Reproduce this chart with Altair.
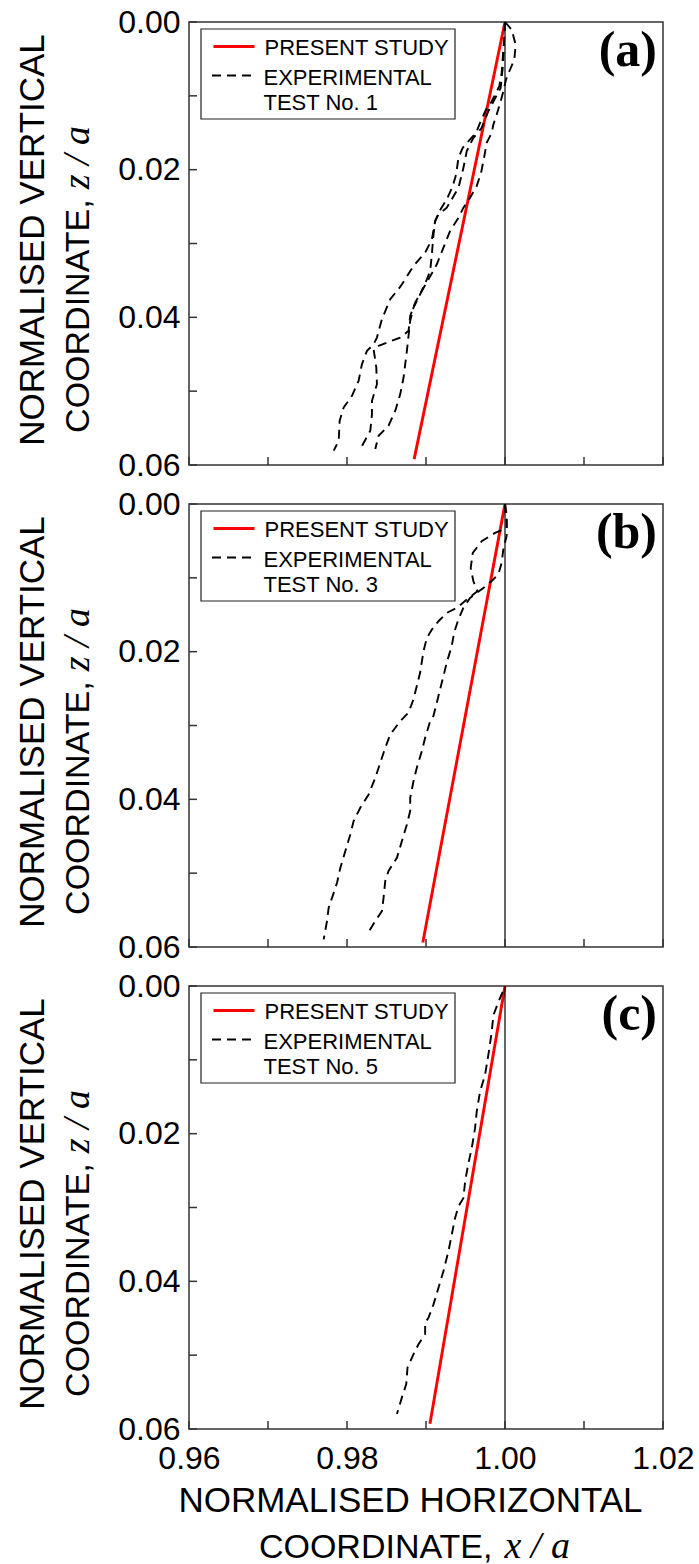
import altair as alt
import pandas as pd

FONT = "Liberation Sans"
SERIF = "Liberation Serif"

# ---------------- axis values ----------------
X_TICKS = [0.96, 0.97, 0.98, 0.99, 1.00, 1.01, 1.02]
X_LABELS = [0.96, 0.98, 1.00, 1.02]
Z_TICKS = [0.00, 0.01, 0.02, 0.03, 0.04, 0.05, 0.06]
Z_LABELS = [0.00, 0.02, 0.04, 0.06]
VERTICAL_REF = [1.00]

PANEL_LETTERS = ["(a)", "(b)", "(c)"]
TEST_NAMES = ["TEST No. 1", "TEST No. 3", "TEST No. 5"]

# ---------------- panel (a) ----------------
present_a_x = [1.0000, 0.9885]
present_a_z = [0.0000, 0.0592]

exp_a1_x = [1.00000, 0.99987, 0.99971, 0.99958, 0.99928, 0.99832, 0.99760, 0.99684, 0.99634,
            0.99558, 0.99465, 0.99411, 0.99381, 0.99339, 0.99263, 0.99171, 0.99116, 0.99074,
            0.98989, 0.98842, 0.98682, 0.98547, 0.98442, 0.98379, 0.98337, 0.98253, 0.98189,
            0.98147, 0.98063, 0.97958, 0.97907, 0.97895, 0.97832]
exp_a1_z = [0.00000, 0.00261, 0.00487, 0.00690, 0.00870, 0.01073, 0.01186, 0.01366, 0.01501,
            0.01591, 0.01704, 0.01839, 0.02065, 0.02222, 0.02403, 0.02561, 0.02696, 0.02944,
            0.03124, 0.03304, 0.03575, 0.03755, 0.04026, 0.04274, 0.04364, 0.04454, 0.04634,
            0.04860, 0.05063, 0.05220, 0.05401, 0.05671, 0.05806]

exp_a2_x = [1.00000, 1.00084, 1.00135, 1.00118, 1.00055, 1.00013, 0.99979, 0.99945, 0.99895,
            0.99853, 0.99832, 0.99768, 0.99735, 0.99697, 0.99642, 0.99558, 0.99474, 0.99411,
            0.99305, 0.99221, 0.99137, 0.99044, 0.98947, 0.98863, 0.98800, 0.98779, 0.98674,
            0.98400, 0.98337, 0.98371, 0.98379, 0.98316, 0.98316, 0.98295, 0.98168]
exp_a2_z = [0.00000, 0.00104, 0.00307, 0.00509, 0.00667, 0.00780, 0.00938, 0.01073, 0.01253,
            0.01388, 0.01501, 0.01636, 0.01839, 0.02042, 0.02222, 0.02380, 0.02515, 0.02651,
            0.02831, 0.03056, 0.03282, 0.03462, 0.03643, 0.03800, 0.03981, 0.04183, 0.04274,
            0.04386, 0.04431, 0.04679, 0.04905, 0.05130, 0.05311, 0.05536, 0.05784]

exp_a3_x = [1.00000, 0.99987, 0.99971, 0.99945, 0.99789, 0.99705, 0.99600, 0.99516, 0.99474,
            0.99411, 0.99263, 0.99158, 0.99116, 0.99095, 0.99074, 0.99053, 0.99011, 0.98926,
            0.98842, 0.98800, 0.98758, 0.98716, 0.98674, 0.98611, 0.98526, 0.98400, 0.98358]
exp_a3_z = [0.00000, 0.00307, 0.00622, 0.00893, 0.01208, 0.01434, 0.01569, 0.01749, 0.01975,
            0.02245, 0.02515, 0.02606, 0.02696, 0.02876, 0.03147, 0.03372, 0.03485, 0.03688,
            0.03868, 0.04048, 0.04454, 0.04815, 0.05040, 0.05265, 0.05468, 0.05604, 0.05784]

# ---------------- panel (b) ----------------
present_b_x = [1.0000, 0.9896]
present_b_z = [0.0000, 0.0594]

exp_b1_x = [1.00000, 1.00021, 1.00021, 0.99874, 0.99705, 0.99592, 0.99566, 0.99600, 0.99651,
            0.99516, 0.99389, 0.99263, 0.99158, 0.99074, 0.99011, 0.98968, 0.98926, 0.98884,
            0.98842, 0.98779, 0.98674, 0.98547, 0.98484, 0.98421, 0.98358, 0.98274, 0.98168,
            0.98084, 0.98042, 0.97979, 0.97916, 0.97874, 0.97811, 0.97768, 0.97747, 0.97705]
exp_b1_z = [0.00000, 0.00144, 0.00325, 0.00392, 0.00505, 0.00663, 0.00866, 0.01047, 0.01182,
            0.01295, 0.01408, 0.01475, 0.01588, 0.01701, 0.01814, 0.01994, 0.02283, 0.02463,
            0.02644, 0.02824, 0.02941, 0.03122, 0.03302, 0.03505, 0.03708, 0.03934, 0.04114,
            0.04295, 0.04475, 0.04701, 0.04926, 0.05129, 0.05332, 0.05468, 0.05648, 0.05896]

exp_b2_x = [1.00000, 1.00021, 1.00021, 0.99979, 0.99958, 0.99916, 0.99832, 0.99726, 0.99558,
            0.99474, 0.99411, 0.99356, 0.99326, 0.99263, 0.99221, 0.99179, 0.99137, 0.99095,
            0.99053, 0.98989, 0.98947, 0.98884, 0.98842, 0.98800, 0.98800, 0.98758, 0.98695,
            0.98632, 0.98526, 0.98484, 0.98463, 0.98442, 0.98358, 0.98286]
exp_b2_z = [0.00000, 0.00253, 0.00433, 0.00614, 0.00794, 0.00952, 0.01042, 0.01137, 0.01272,
            0.01403, 0.01561, 0.01741, 0.01922, 0.02147, 0.02328, 0.02508, 0.02689, 0.02869,
            0.02941, 0.03167, 0.03347, 0.03573, 0.03753, 0.03979, 0.04159, 0.04340, 0.04565,
            0.04791, 0.04971, 0.05107, 0.05332, 0.05513, 0.05648, 0.05774]

# ---------------- panel (c) ----------------
present_c_x = [1.0000, 0.9905]
present_c_z = [0.0000, 0.0593]

exp_c1_x = [0.99971, 0.99916, 0.99853, 0.99832, 0.99789, 0.99747, 0.99684, 0.99642, 0.99621,
            0.99579, 0.99537, 0.99495, 0.99474, 0.99411, 0.99368, 0.99326, 0.99284, 0.99221,
            0.99158, 0.99095, 0.99032, 0.98989, 0.98989, 0.98905, 0.98842, 0.98766, 0.98750,
            0.98695, 0.98632]
exp_c1_z = [0.00081, 0.00216, 0.00396, 0.00621, 0.00936, 0.01206, 0.01431, 0.01701, 0.01926,
            0.02197, 0.02399, 0.02647, 0.02872, 0.02984, 0.03142, 0.03367, 0.03592, 0.03862,
            0.04087, 0.04312, 0.04492, 0.04560, 0.04717, 0.04852, 0.04987, 0.05167, 0.05392,
            0.05572, 0.05797]

# ---------------- layout / style ----------------
W, H = 474, 443
RED = "#ff0000"
DASH = [9, 6]
DASH_W = 1.9
FRAME = "#333333"


def line_frame(xs, zs, name):
    return pd.DataFrame({"x": xs, "z": zs, "i": list(range(len(xs))), "curve": name})


def x_enc(show_labels):
    if show_labels:
        axis = alt.Axis(values=X_LABELS, format=".2f", ticks=False, domain=False, grid=False,
                        labelFont=FONT, labelFontSize=32, labelColor="black", labelPadding=14,
                        labelFlush=False, labelOverlap=False, title=None)
    else:
        axis = None
    return alt.X("x:Q", scale=alt.Scale(domain=[0.96, 1.02], nice=False, zero=False), axis=axis)


Y_ENC = alt.Y("z:Q", scale=alt.Scale(domain=[0.0, 0.06], reverse=True, nice=False, zero=False),
              axis=alt.Axis(values=Z_LABELS, format=".2f", ticks=False, domain=False, grid=False,
                            labelFont=FONT, labelFontSize=32, labelColor="black", labelPadding=9,
                            labelFlush=False, labelOverlap=False, title=None))

ONE = pd.DataFrame({"k": [0]})


def text_value(txt, x, y, **kw):
    return alt.Chart(ONE).mark_text(**kw).encode(
        x=alt.value(x), y=alt.value(y), text=alt.value(txt))


def panel(idx, present_x, present_z, curves, show_x_labels):
    xe = x_enc(show_x_labels)
    present = alt.Chart(line_frame(present_x, present_z, "present")).mark_line(
        color=RED, strokeWidth=2.9).encode(x=xe, y=Y_ENC, order="i:Q")
    exp_df = pd.concat([line_frame(cx, cz, f"exp{k}") for k, (cx, cz) in enumerate(curves)],
                       ignore_index=True)
    exp = alt.Chart(exp_df).mark_line(color="black", strokeWidth=DASH_W, strokeDash=DASH).encode(
        x=xe, y=Y_ENC, detail="curve:N", order="i:Q")
    vref = alt.Chart(pd.DataFrame({"x": VERTICAL_REF})).mark_rule(
        color="black", strokeWidth=1.2).encode(x=xe)
    left_ticks = alt.Chart(pd.DataFrame({"z": Z_TICKS})).mark_rule(
        color=FRAME, strokeWidth=1.5).encode(y=Y_ENC, x=alt.value(0), x2=alt.value(8))
    bottom_ticks = alt.Chart(pd.DataFrame({"x": X_TICKS})).mark_rule(
        color=FRAME, strokeWidth=1.5).encode(x=xe, y=alt.value(H), y2=alt.value(H - 8))

    # legend box
    box = alt.Chart(ONE).mark_rect(fill="white", stroke="#222222", strokeWidth=1.2).encode(
        x=alt.value(12), x2=alt.value(266), y=alt.value(7), y2=alt.value(97))
    leg_red = alt.Chart(ONE).mark_rule(color=RED, strokeWidth=2.9).encode(
        x=alt.value(24.5), x2=alt.value(65.5), y=alt.value(24.5))
    leg_dash = alt.Chart(ONE).mark_rule(color="black", strokeWidth=DASH_W, strokeDash=DASH).encode(
        x=alt.value(23), x2=alt.value(65), y=alt.value(53.5))
    legend_kw = dict(align="left", baseline="alphabetic", font=FONT, fontSize=22, color="black")
    t1 = text_value("PRESENT STUDY", 75.5, 32.6, **legend_kw)
    t2 = text_value("EXPERIMENTAL", 74.5, 62.6, **legend_kw)
    t3 = text_value(TEST_NAMES[idx], 74.5, 87.6, **legend_kw)

    letter = text_value(PANEL_LETTERS[idx], 468, 44, align="right", baseline="alphabetic",
                        font=SERIF, fontWeight="bold", fontSize=50, color="black")

    # y-axis title (two lines, math in italic serif)
    yt1 = text_value("NORMALISED VERTICAL", -145.2, 218, angle=270, align="center",
                     baseline="alphabetic", font=FONT, fontSize=35, color="black")
    yt2 = text_value("COORDINATE,", -100.5, 177.3, angle=270, align="right",
                     baseline="alphabetic", font=FONT, fontSize=34, color="black")
    yt3 = text_value("z / a", -100.5, 167.3, angle=270, align="left",
                     baseline="alphabetic", font=SERIF, fontStyle="italic", fontSize=38,
                     color="black")

    layers = [present, exp, vref, left_ticks, bottom_ticks, box, leg_red, leg_dash,
              t1, t2, t3, letter, yt1, yt2, yt3]

    if show_x_labels:
        xt1 = text_value("NORMALISED HORIZONTAL", 221.5, H + 83, align="center",
                         baseline="alphabetic", font=FONT, fontSize=35, color="black")
        xt2 = text_value("COORDINATE,", 303.5, H + 129, align="right",
                         baseline="alphabetic", font=FONT, fontSize=34, color="black")
        xt3 = text_value("x / a", 315.5, H + 129, align="left",
                         baseline="alphabetic", font=SERIF, fontStyle="italic", fontSize=38,
                         color="black")
        layers += [xt1, xt2, xt3]

    return alt.layer(*layers).properties(width=W, height=H)


pa = panel(0, present_a_x, present_a_z,
           [(exp_a1_x, exp_a1_z), (exp_a2_x, exp_a2_z), (exp_a3_x, exp_a3_z)], False)
pb = panel(1, present_b_x, present_b_z,
           [(exp_b1_x, exp_b1_z), (exp_b2_x, exp_b2_z)], False)
pc = panel(2, present_c_x, present_c_z, [(exp_c1_x, exp_c1_z)], True)

chart = alt.vconcat(pa, pb, pc, spacing=39, bounds="flush").configure_view(
    stroke=FRAME, strokeWidth=1.5
).properties(
    padding={"left": 15, "top": 5, "right": 0, "bottom": 0},
    background="white",
)

chart.save("out.html", embed_options={"renderer": "svg", "actions": False})
